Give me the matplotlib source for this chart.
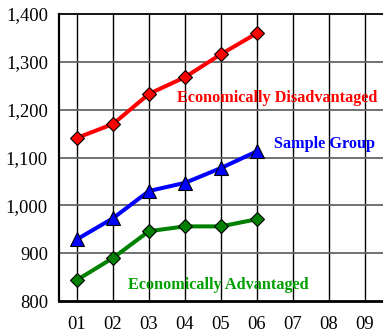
import matplotlib
matplotlib.use("Agg")
import matplotlib.pyplot as plt

years = ["01", "02", "03", "04", "05", "06", "07", "08", "09"]
disadvantaged = [1141, 1170, 1233, 1268, 1316, 1360]
sample_group = [929, 973, 1030, 1047, 1078, 1113]
advantaged = [844, 890, 946, 956, 956, 971]
y_ticks = [800, 900, 1000, 1100, 1200, 1300, 1400]

plt.rcParams["font.family"] = ["Liberation Serif", "DejaVu Serif"]

fig = plt.figure(figsize=(3.83, 3.34), dpi=100)
W, H = 383, 334
ax = fig.add_axes([59 / W, 1 - 301 / H, (383 - 59) / W, (301 - 14) / H])

x = list(range(1, len(years) + 1))

ax.plot(x[:len(disadvantaged)], disadvantaged, color="#ff0000", lw=2.9,
        marker="D", ms=7.3, mfc="#ff0000", mec="#000000", mew=0.8, zorder=5)
ax.plot(x[:len(sample_group)], sample_group, color="#0000ff", lw=2.9,
        marker="^", ms=9.5, mfc="#0000ff", mec="#000000", mew=0.8, zorder=5)
ax.plot(x[:len(advantaged)], advantaged, color="#008000", lw=2.9,
        marker="D", ms=7.3, mfc="#008000", mec="#000000", mew=0.8, zorder=5)

ax.set_xlim(0.5, 9.5)
ax.set_ylim(800, 1400)
ax.set_xticks(x)
ax.set_xticklabels(years)
ax.set_yticks(y_ticks)
ax.set_yticklabels([f"{v:,}" for v in y_ticks])
ax.tick_params(length=0, labelsize=13.3, colors="#000000")
ax.tick_params(axis="y", pad=8)
ax.tick_params(axis="x", pad=11)

# grid: black verticals, grey horizontals
for xi in x:
    ax.axvline(xi, color="#000000", lw=1.0, zorder=1)
for yv in y_ticks[1:-1]:
    ax.axhline(yv, color="#666666", lw=1.3, zorder=1)

ax.spines["right"].set_visible(False)
ax.spines["top"].set_color("#000000")
ax.spines["top"].set_linewidth(1.3)
ax.spines["left"].set_linewidth(1.6)
ax.spines["bottom"].set_linewidth(2.0)

ax.text(9.33, 1224, "Economically Disadvantaged", color="#ff0000",
        fontsize=11.7, fontweight="bold", ha="right", va="center")
ax.text(9.28, 1128, "Sample Group", color="#0000ff",
        fontsize=11.7, fontweight="bold", ha="right", va="center")
ax.text(4.93, 833, "Economically Advantaged", color="#00a000",
        fontsize=11.7, fontweight="bold", ha="center", va="center")

fig.savefig("out.png", dpi=100)
